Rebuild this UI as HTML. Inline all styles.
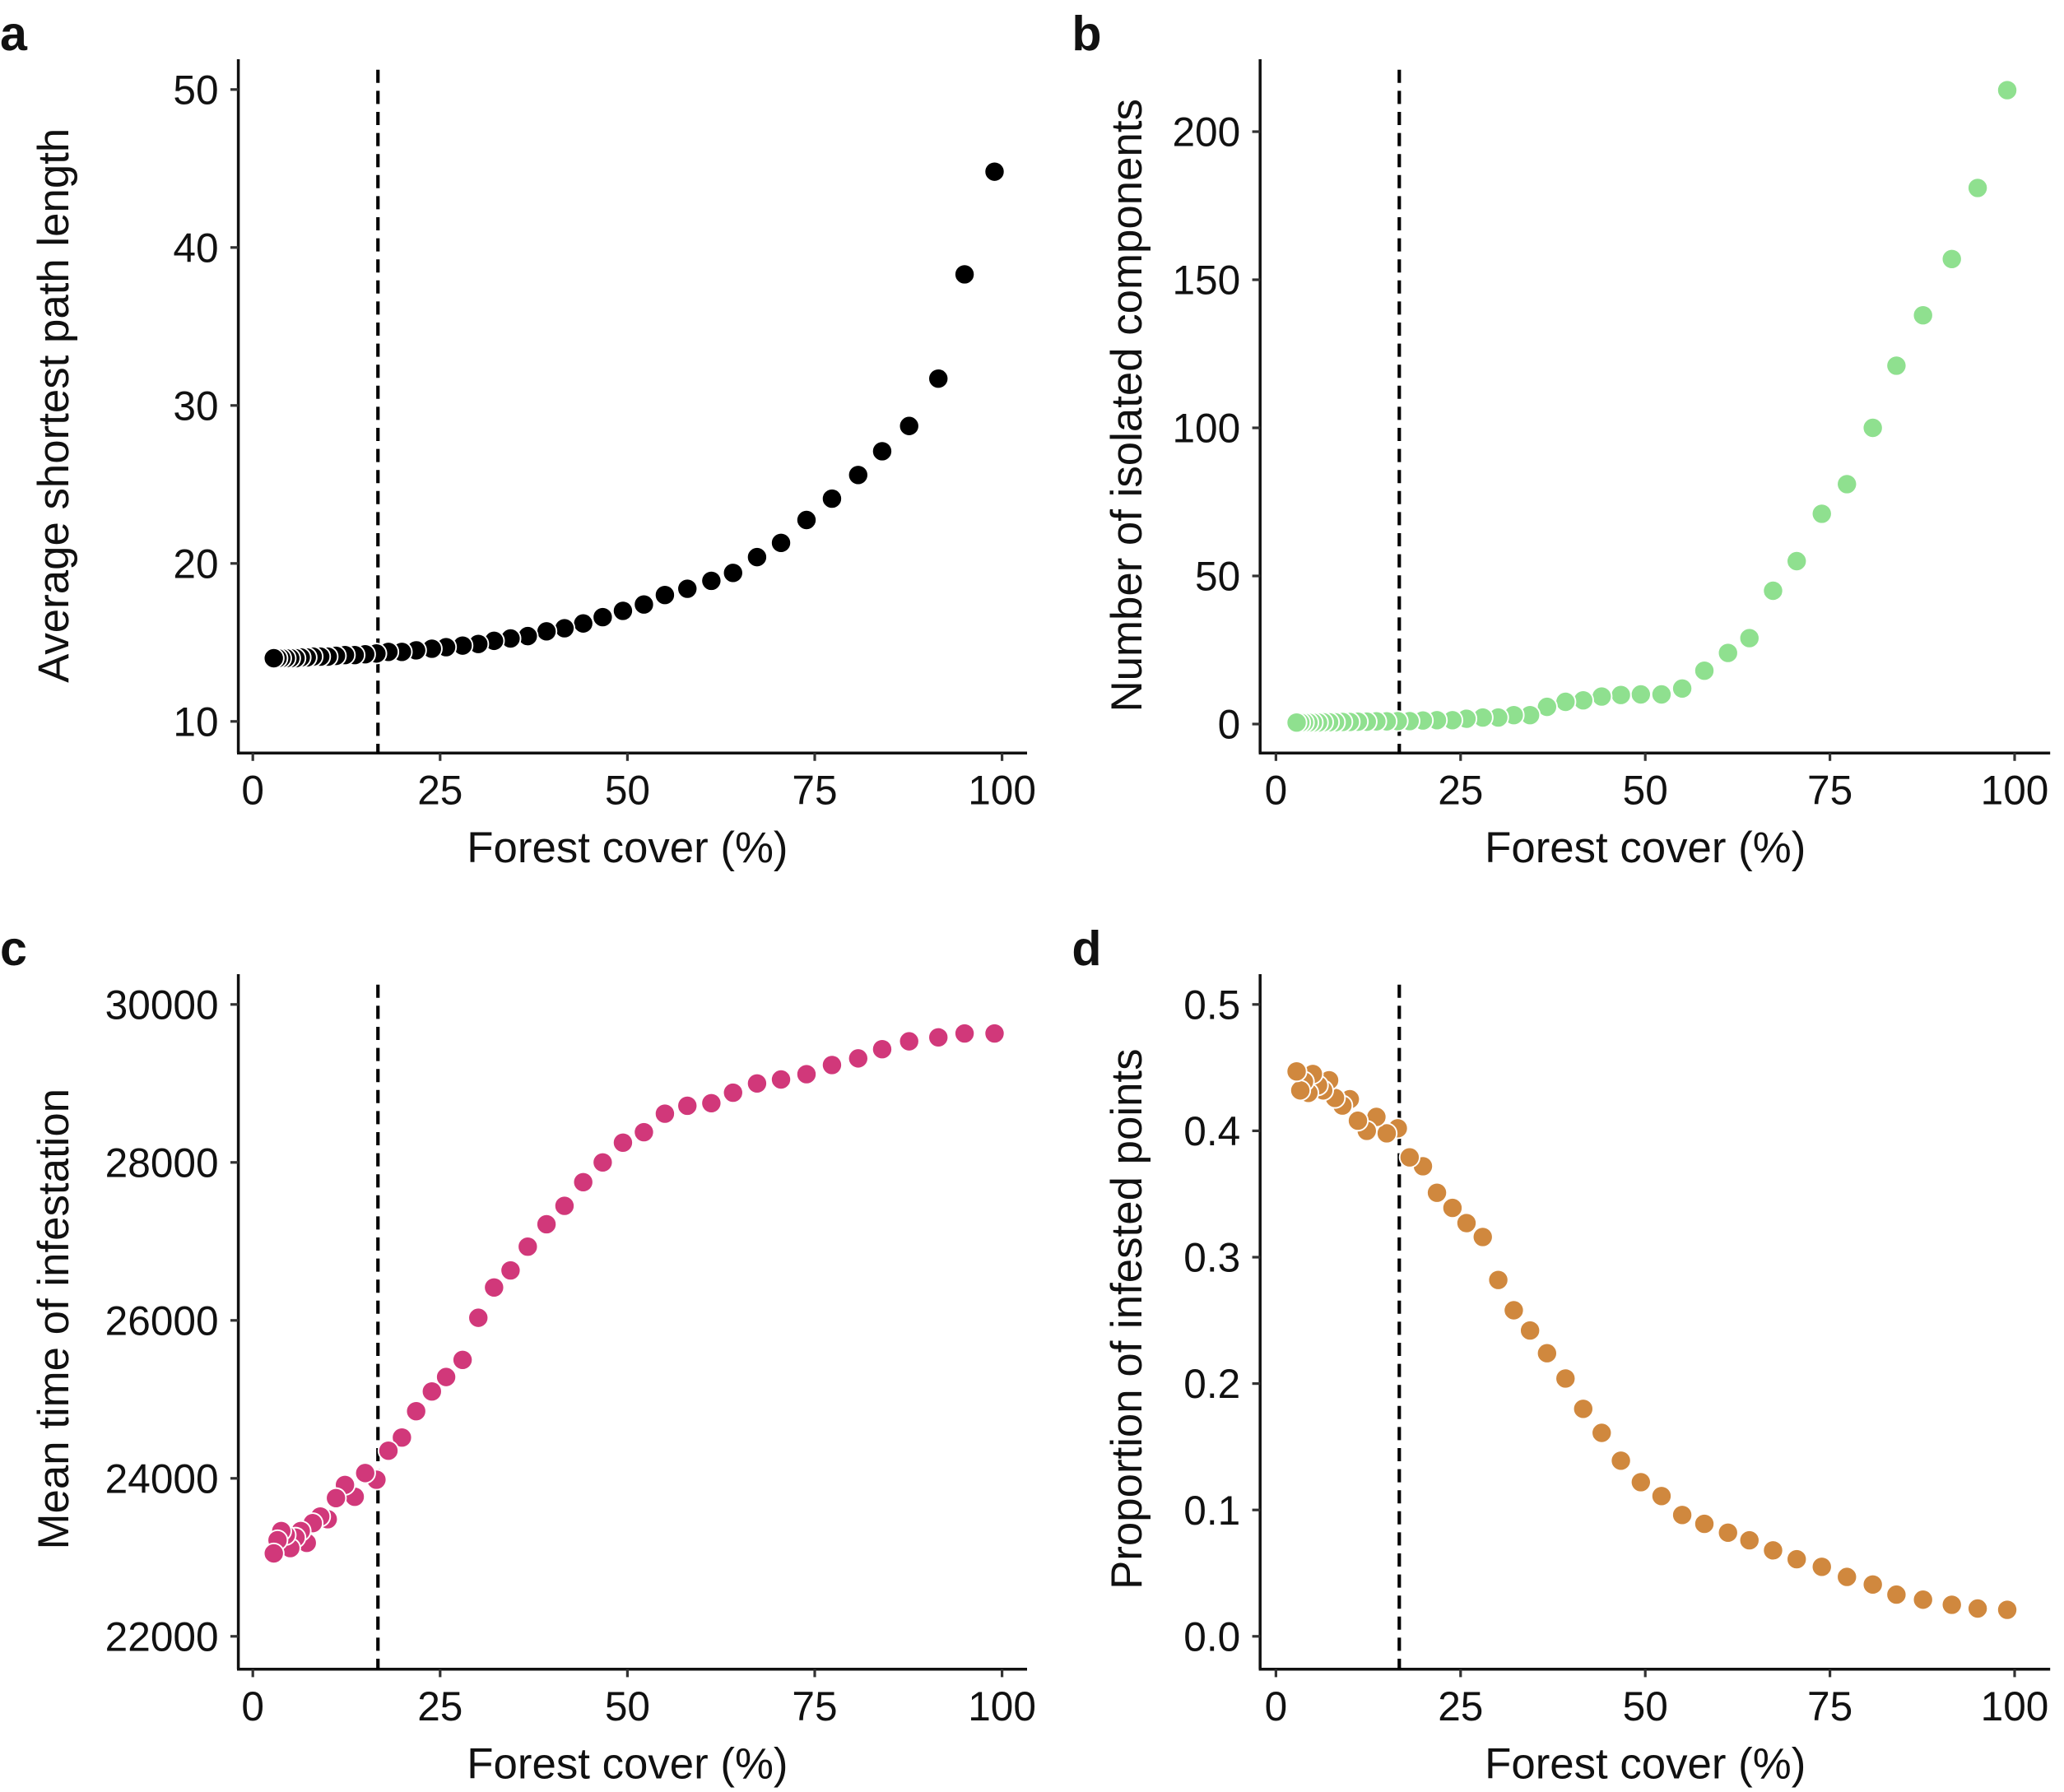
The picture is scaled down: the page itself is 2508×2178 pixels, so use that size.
<!DOCTYPE html>
<html><head><meta charset="utf-8"><style>
html,body{margin:0;padding:0;background:#fff}
svg{display:block}
text{font-family:"Liberation Sans",Arial,sans-serif;fill:#111}
</style></head><body>
<svg id="fig" width="2508" height="2178" viewBox="0 0 1567.5 1361.25" xmlns="http://www.w3.org/2000/svg"></svg>
<script>
const forestCover = [99,95,91.5,87.6,84,80.8,77.3,73.9,70.5,67.3,64.1,61.2,58,55,52.2,49.4,46.7,44.1,41.6,39.2,36.7,34.4,32.2,30.1,28,25.8,23.9,21.8,19.9,18.1,16.5,15,13.6,12.3,11.1,10,9,8,7.2,6.4,5.7,5,4.4,3.8,3.3,2.8];
const pathLength = [44.8,38.3,31.7,28.7,27.1,25.6,24.1,22.75,21.3,20.4,19.4,18.9,18.4,18.0,17.4,17.0,16.6,16.2,15.9,15.7,15.4,15.25,15.1,14.9,14.8,14.7,14.6,14.5,14.4,14.4,14.3,14.25,14.2,14.2,14.15,14.1,14.1,14.1,14.05,14.05,14.0,14.0,14.0,14.0,14.0,14.0];
const components = [214,181,157,138,121,100,81,71,55,45,29,24,18,12,10,10,9.8,9.3,8,7.5,5.8,3,3,2.2,2.2,1.8,1.3,1.3,1.2,1,1,0.9,0.9,0.8,0.8,0.7,0.7,0.6,0.6,0.6,0.5,0.5,0.5,0.5,0.5,0.5];
const infestTime = [29633,29633,29583,29533,29433,29317,29233,29117,29050,29000,28883,28750,28717,28617,28383,28250,28000,27750,27450,27217,26933,26633,26417,26033,25500,25283,25100,24850,24517,24350,23983,24067,23767,23917,23750,23483,23517,23433,23183,23333,23250,23117,23283,23333,23217,23050];
const infestProp = [0.021,0.022,0.025,0.029,0.033,0.041,0.047,0.055,0.061,0.068,0.076,0.082,0.089,0.096,0.111,0.122,0.139,0.161,0.18,0.204,0.224,0.242,0.258,0.282,0.316,0.327,0.339,0.351,0.372,0.379,0.402,0.398,0.411,0.4,0.408,0.425,0.42,0.426,0.44,0.432,0.436,0.445,0.43,0.439,0.432,0.447];
const xTicks = [0,25,50,75,100];
const ticksA = [10,20,30,40,50];
const ticksB = [0,50,100,150,200];
const ticksC = [22000,24000,26000,28000,30000];
const ticksD = [0,0.1,0.2,0.3,0.4,0.5];
const ticksDLabels = ["0.0","0.1","0.2","0.3","0.4","0.5"];
const threshold = 16.7;

const NS = "http://www.w3.org/2000/svg";
const svg = document.getElementById('fig');
function mk(tag, attrs, parent){const e=document.createElementNS(NS,tag);for(const k in attrs)e.setAttribute(k,attrs[k]);(parent||svg).appendChild(e);return e;}

function panel(cfg){
  const g = mk('g',{});
  
  
  const xs = v => cfg.x0 + (cfg.x100-cfg.x0)*v/100;
  const ys = v => cfg.yb + (cfg.yt-cfg.yb)*(v-cfg.vb)/(cfg.vt-cfg.vb);
  const ya = mk('line',{x1:cfg.left,y1:cfg.top,x2:cfg.left,y2:cfg.bottom,stroke:'#111','stroke-width':2.2},g);
  
  
  const xa = mk('line',{x1:cfg.left-1,y1:cfg.bottom,x2:cfg.right,y2:cfg.bottom,stroke:'#111','stroke-width':2.2},g);
  
  
  xTicks.forEach(t=>{
    const x=xs(t);
    mk('line',{x1:x,y1:cfg.bottom,x2:x,y2:cfg.bottom+6,stroke:'#333','stroke-width':2},g);
    const tx=mk('text',{x:x,y:cfg.bottom+39,'text-anchor':'middle','font-size':31},g);
    tx.textContent=t;
    
    
  });
  cfg.yticks.forEach((t,i)=>{
    const y=ys(t);
    mk('line',{x1:cfg.left-6,y1:y,x2:cfg.left,y2:y,stroke:'#333','stroke-width':2},g);
    const tx=mk('text',{x:cfg.left-15,y:y+11,'text-anchor':'end','font-size':31},g);
    tx.textContent=cfg.ylabels?cfg.ylabels[i]:t;
    
    
  });
  const xt=mk('text',{x:(cfg.x0+cfg.x100)/2,y:cfg.bottom+83,'text-anchor':'middle','font-size':33},g);
  xt.textContent='Forest cover (%)';
  
  
  const cy=cfg.ytc;
  const yt=mk('text',{x:cfg.ytx,y:cy,'text-anchor':'middle','font-size':33,transform:`rotate(-90 ${cfg.ytx} ${cy})`},g);
  yt.textContent=cfg.ytitle;
  
  
  const pl=mk('text',{x:cfg.lx,y:cfg.ly,'font-size':37,'font-weight':'bold'},g);
  pl.textContent=cfg.letter;
  
  
  const dl=mk('line',{x1:xs(threshold),y1:cfg.top+8,x2:xs(threshold),y2:cfg.bottom,stroke:'#000','stroke-width':2.6,'stroke-dasharray':'10,6'},g);
  
  
  forestCover.forEach((fx,i)=>{
    const c=mk('circle',{cx:xs(fx),cy:ys(cfg.vals[i]),r:7.6,fill:cfg.color,stroke:'#fff','stroke-width':1.2},g);
    
    
  });
}

panel({name:'panel-a',letter:'a',lx:0,ly:38,left:181,right:780,top:45,bottom:572,x0:192,x100:761,vb:10,vt:50,yb:548,yt:68,yticks:ticksA,vals:pathLength,color:'#000',ytitle:'Average shortest path length',ytx:52,ytc:308});
panel({name:'panel-b',letter:'b',lx:814,ly:38,left:957,right:1557,top:45,bottom:572,x0:969,x100:1530,vb:0,vt:200,yb:550,yt:100,yticks:ticksB,vals:components,color:'#8fe08f',ytitle:'Number of isolated components',ytx:867,ytc:308});
panel({name:'panel-c',letter:'c',lx:0,ly:733,left:181,right:780,top:740,bottom:1268,x0:192,x100:761,vb:22000,vt:30000,yb:1243,yt:763,yticks:ticksC,vals:infestTime,color:'#d1387a',ytitle:'Mean time of infestation',ytx:52,ytc:1002});
panel({name:'panel-d',letter:'d',lx:814,ly:733,left:957,right:1557,top:740,bottom:1268,x0:969,x100:1530,vb:0,vt:0.5,yb:1243,yt:763,yticks:ticksD,ylabels:ticksDLabels,vals:infestProp,color:'#d0883e',ytitle:'Proportion of infested points',ytx:867,ytc:1002});
</script>
</body></html>
